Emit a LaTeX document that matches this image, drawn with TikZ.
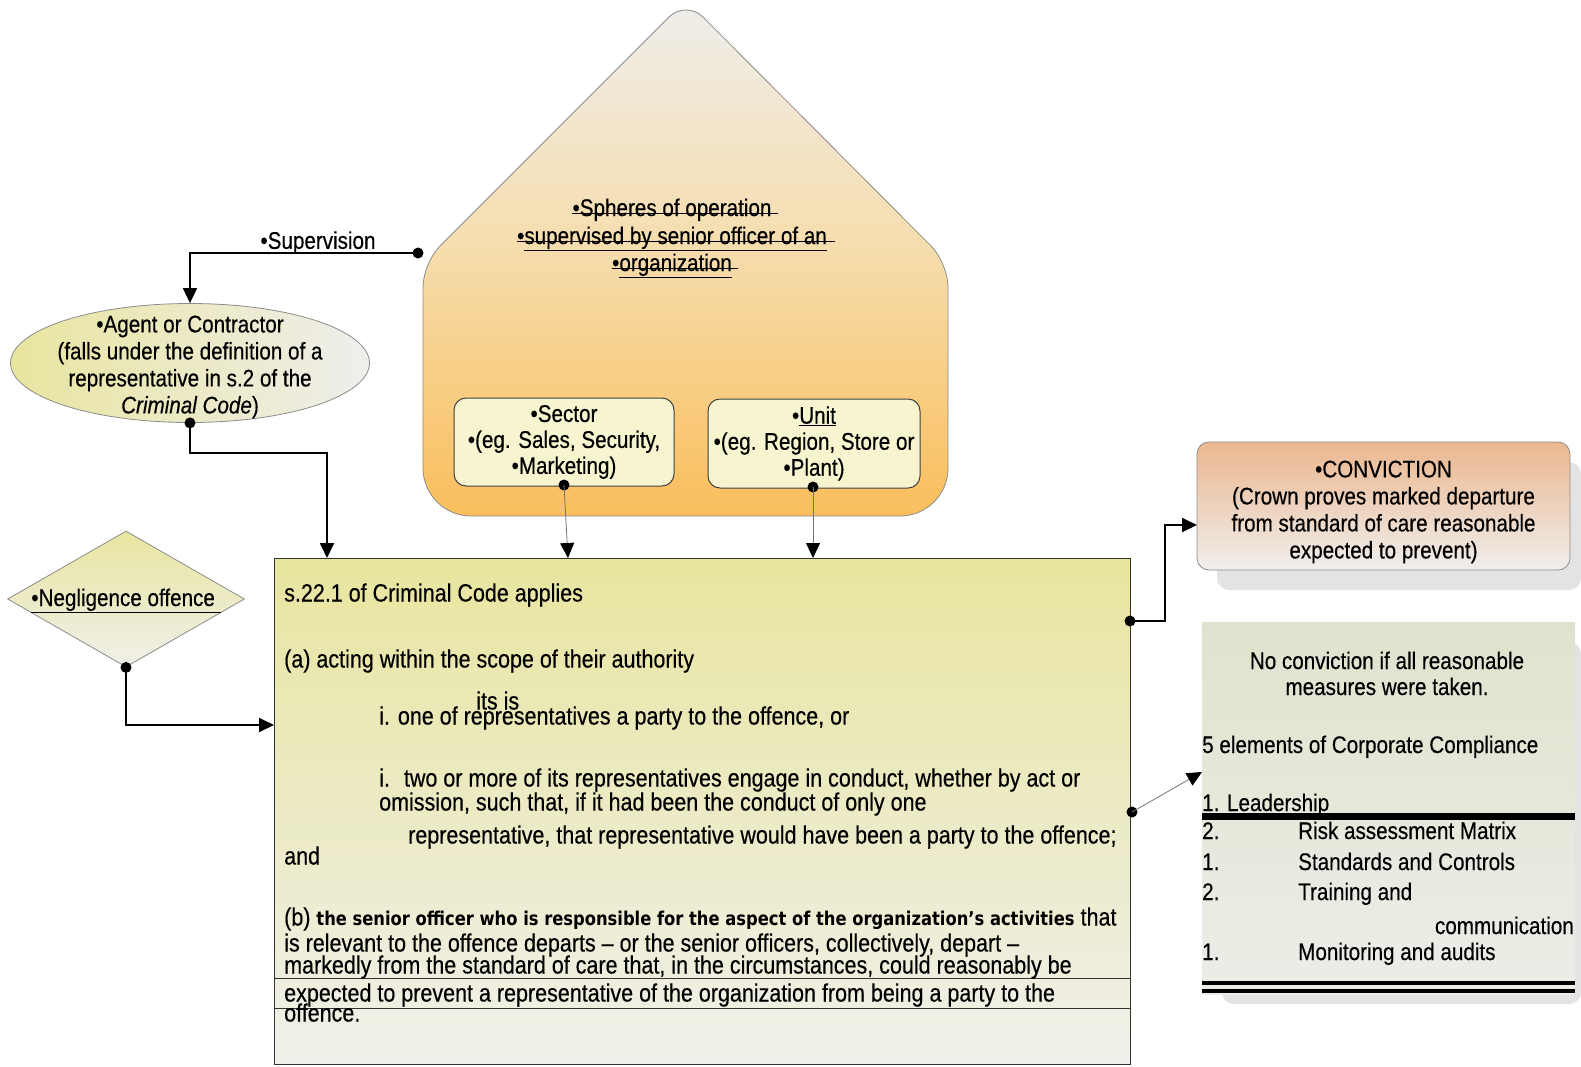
\documentclass[tikz,border=0pt]{standalone}
\usepackage{fontspec}
\setmainfont{Liberation Sans}[FakeStretch=0.86,FakeBold=0.4]
\newfontfamily\boldsans{DejaVu Sans}[FakeStretch=0.86]
\usetikzlibrary{arrows.meta,shapes.geometric,calc}

\definecolor{houseTop}{HTML}{EFEEEC}
\definecolor{houseMid}{HTML}{F6DCAA}
\definecolor{houseBot}{HTML}{FABE5C}
\definecolor{leafFill}{HTML}{F7F4D0}
\definecolor{yellowTop}{HTML}{E8E59F}
\definecolor{paleBot}{HTML}{F0F0EB}
\definecolor{convTop}{HTML}{EBB78F}
\definecolor{convBot}{HTML}{F0EEEC}
\definecolor{listTop}{HTML}{DFE3CD}
\definecolor{listBot}{HTML}{EDEDE8}
\definecolor{shadowGray}{HTML}{E3E3E3}
\definecolor{edgeGray}{HTML}{8C8C8C}

\tikzset{
  txt/.style={inner sep=0pt, text height=17pt, text depth=5pt, anchor=west,
              font=\fontsize{24}{26}\selectfont},
  ctxt/.style={txt, anchor=center},
  mtxt/.style={txt, text height=18pt, font=\fontsize{25}{27}\selectfont},
  block/.style={inner sep=0pt, font=\fontsize{24}{26}\selectfont, align=center},
  conn/.style={line width=1.8pt, -{Triangle[length=15pt,width=14pt]}},
  thinconn/.style={line width=0.8pt, draw=black!55,
                   -{Triangle[length=15pt,width=14pt,color=black]}},
  dot/.style={circle, fill=black, inner sep=0pt, minimum size=11pt},
  strike/.style={line width=1.3pt},
}

\begin{document}
\begin{tikzpicture}[x=1pt,y=-1pt]
\useasboundingbox (0,0) rectangle (1581,1066);

% ---------- house: spheres of operation ----------
\draw[draw=edgeGray, line width=0.8pt, top color=houseTop, bottom color=houseBot,
      middle color=houseMid]
  (423,420) [rounded corners=24] -- (423,263) -- (686,0) -- (948,263)
  [rounded corners=48] -- (948,516) -- (423,516) [sharp corners] -- cycle;

\node[ctxt] (sp1) at (672,210) {•Spheres of operation};
\node[ctxt] (sp2) at (672,238) {•\underline{supervised by senior officer of an}};
\node[ctxt] (sp3) at (672,265) {•\underline{organization}};
\draw[strike] (sp1.mid west) -- ($(sp1.mid east)+(6,0)$);
\draw[strike] (sp2.mid west) -- ($(sp2.mid east)+(8,0)$);
\draw[strike] (sp3.mid west) -- ($(sp3.mid east)+(6,0)$);

% ---------- sector and unit ----------
\node[block, draw=black!75, line width=1pt, rounded corners=12, fill=leafFill,
      minimum width=220, minimum height=88] (sector) at (564,442)
  {•Sector\\•(eg. Sales, Security,\\•Marketing)};
\node[block, draw=black!75, line width=1pt, rounded corners=12, fill=leafFill,
      minimum width=212, minimum height=89] (unit) at (814,443.5)
  {•\underline{Unit}\\•(eg. Region, Store or\\•Plant)};

% ---------- agent / contractor ----------
\node[ellipse, draw=edgeGray, line width=0.8pt, left color=yellowTop, right color=houseTop,
      minimum width=359, minimum height=119, inner sep=0pt] (agent) at (190,363) {};
\node[block, font=\fontsize{24}{27}\selectfont] (agenttext) at (190,367)
  {•Agent or Contractor\\(falls under the definition of a\\representative in s.2 of the\\
   \textit{Criminal Code})};

% ---------- negligence offence ----------
\node[diamond, draw=edgeGray, line width=0.8pt, top color=yellowTop, bottom color=paleBot,
      minimum width=237, minimum height=136, aspect=1.74, inner sep=0pt] (neg) at (126,599) {};
\node[ctxt] (negtext) at (126,600) {\underline{•Negligence offence\ }};

% ---------- main provision box ----------
\node[draw=black!80, line width=1pt, top color=yellowTop, bottom color=paleBot,
      minimum width=856, minimum height=506, inner sep=0pt, anchor=north west]
  (main) at (274,558) {};
\draw[line width=1pt, black!80] ($(main.north west)+(0,420)$) -- ($(main.north east)+(0,420)$);
\draw[line width=1pt, black!80] ($(main.north west)+(0,450)$) -- ($(main.north east)+(0,450)$);

\node[mtxt] (m1) at (284,595) {s.22.1 of Criminal Code applies};
\node[mtxt] (m2) at (284,661) {(a) acting within the scope of their authority};
\node[mtxt] (m3) at (379,718) {i. one of representatives a party to the offence, or};
\node[mtxt] (m3b) at (476,703) {its is};
\node[mtxt] (m4) at (379,780) {i.\hspace{14pt}two or more of its representatives engage in conduct, whether by act or};
\node[mtxt] (m5) at (379,804) {omission, such that, if it had been the conduct of only one};
\node[mtxt] (m6) at (408,837) {representative, that representative would have been a party to the offence;};
\node[mtxt] (m7) at (284,858) {and};
\node[mtxt] (m8) at (284,919) {(b) {\boldsans\bfseries\fontsize{19}{26}\selectfont the senior officer who is responsible for the aspect of the organization’s activities} that};
\node[mtxt] (m9) at (284,945) {is relevant to the offence departs – or the senior officers, collectively, depart –};
\node[mtxt] (m10) at (284,967) {markedly from the standard of care that, in the circumstances, could reasonably be};
\node[mtxt] (m11) at (284,995) {expected to prevent a representative of the organization from being a party to the};
\node[mtxt] (m12) at (284,1015) {offence.};

% ---------- conviction ----------
\fill[shadowGray, rounded corners=12] (1217,462) rectangle (1581,590);
\node[draw=edgeGray, line width=0.8pt, rounded corners=12, top color=convTop,
      bottom color=convBot, minimum width=373, minimum height=128, inner sep=0pt]
  (conv) at (1383.5,506) {};
\node[block, font=\fontsize{24}{27}\selectfont] (convtext) at (1383.5,512)
  {•CONVICTION\\(Crown proves marked departure\\from standard of care reasonable\\expected to prevent)};

% ---------- compliance list ----------
\fill[shadowGray, rounded corners=12] (1222,642) rectangle (1581,1004);
\node[top color=listTop, bottom color=listBot, minimum width=373, minimum height=372,
      inner sep=0pt, anchor=north west] (list) at (1202,622) {};
\node[ctxt] (l1) at (1387,663) {No conviction if all reasonable};
\node[ctxt] (l2) at (1387,689) {measures were taken.};
\node[txt] (l3) at (1202,747) {5 elements of Corporate Compliance};
\node[txt] (l4) at (1202,805) {1. Leadership};
\draw[line width=7pt] (1202,816) -- (1575,816);
\node[txt] (n1) at (1202,833) {2.};
\node[txt] (i1) at (1298,833) {Risk assessment Matrix};
\node[txt] (n2) at (1202,864) {1.};
\node[txt] (i2) at (1298,864) {Standards and Controls};
\node[txt] (n3) at (1202,894) {2.};
\node[txt] (i3) at (1298,894) {Training and};
\node[txt, anchor=east] (i3b) at (1574,928) {communication};
\node[txt] (n4) at (1202,954) {1.};
\node[txt] (i4) at (1298,954) {Monitoring and audits};
\draw[line width=3.5pt] (1202,983) -- (1575,983);
\draw[line width=3.5pt] (1202,991) -- (1575,991);

% ---------- connectors ----------
\node[dot] (dsup) at (418,253) {};
\node[above, inner sep=2pt, font=\fontsize{24}{26}\selectfont] (suplabel) at (318,256) {•Supervision};
\draw[conn] (dsup.center) -| (agent.north);

\node[dot] (dagent) at (agent.south) {};
\coordinate (mainA) at (327,558);
\draw[conn] (dagent.center) -- ++(0,30) -| (mainA);

\node[dot] (dneg) at (neg.south) {};
\coordinate (mainB) at (274,725);
\draw[conn] (dneg.center) |- (mainB);

\node[dot] (dsector) at (564,485) {};
\coordinate (mainC) at (568,558);
\draw[thinconn] (dsector.center) -- (mainC);

\node[dot] (dunit) at (813,487) {};
\coordinate (mainD) at (813,558);
\draw[thinconn] (dunit.center) -- (mainD);

\node[dot] (dconv) at (1130,621) {};
\coordinate (convin) at (1197,525);
\draw[conn] (dconv.center) -- ++(35,0) |- (convin);

\node[dot] (dlist) at (1132,812) {};
\coordinate (listin) at (1202,772);
\draw[thinconn] (dlist.center) -- (listin);
\end{tikzpicture}
\end{document}
